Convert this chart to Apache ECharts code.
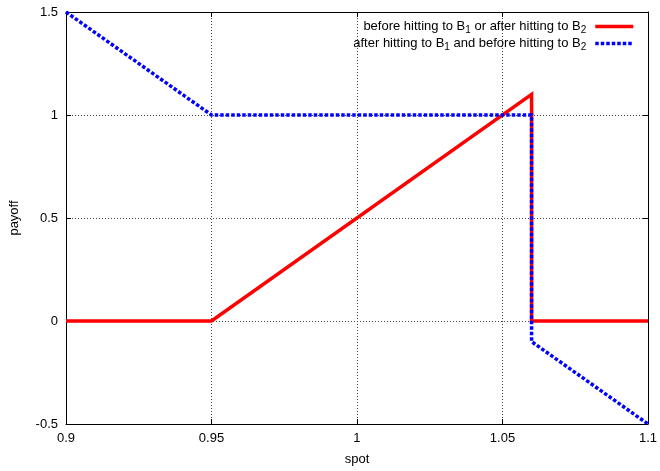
<!DOCTYPE html>
<html>
<head>
<meta charset="utf-8">
<script src="https://cdn.jsdelivr.net/npm/echarts@6/dist/echarts.min.js"></script>
<style>html,body{margin:0;padding:0;background:#fff}#c{width:660px;height:471px}</style>
</head>
<body>
<div id="c"></div>
<script>
const spotBefore = [0.9, 0.95, 1.06, 1.06, 1.1];
const payoffBefore = [0, 0, 1.1, 0, 0];
const spotAfter = [0.9, 0.95, 1.06, 1.06, 1.1];
const payoffAfter = [1.5, 1, 1, -0.1, -0.5];
const xTicks = ['0.9', '0.95', '1', '1.05', '1.1'];
const yTicks = ['-0.5', '0', '0.5', '1', '1.5'];
const nameBefore = 'before hitting to B{s|1} or after hitting to B{s|2}';
const nameAfter = 'after hitting to B{s|1} and before hitting to B{s|2}';

const FONT = 'Liberation Sans, Arial, sans-serif';
const chart = echarts.init(document.getElementById('c'));
const pair = (xs, ys) => xs.map((x, i) => [x, ys[i]]);
const fmtX = v => { const i = Math.round((v - 0.9) / 0.05); return xTicks[i] !== undefined ? xTicks[i] : ''; };
const fmtY = v => { const i = Math.round((v + 0.5) / 0.5); return yTicks[i] !== undefined ? yTicks[i] : ''; };
const legendText = {
  fontFamily: FONT, fontSize: 13, color: '#000', padding: [0, 4, 0, 0],
  rich: { s: { fontFamily: FONT, fontSize: 10, color: '#000', padding: [7, 0, 0, 0] } }
};
const axisCommon = {
  type: 'value',
  axisLine: { show: true, onZero: false, lineStyle: { color: '#000', width: 1 } },
  axisTick: { show: true, inside: true, length: 5, lineStyle: { color: '#000' } },
};
const legendCommon = {
  right: 25, orient: 'vertical', align: 'right', itemWidth: 38, itemHeight: 10, padding: 0,
  textStyle: legendText, formatter: n => n, selectedMode: false,
  itemStyle: { opacity: 0 }, lineStyle: { width: 3.5 }
};
chart.setOption({
  animation: false,
  backgroundColor: '#fff',
  grid: { left: 65, right: 9, top: 12, bottom: 41.5, containLabel: false },
  legend: [
    Object.assign({}, legendCommon, { data: [nameBefore], top: 20 }),
    Object.assign({}, legendCommon, { data: [nameAfter], top: 37 })
  ],
  xAxis: [
    Object.assign({}, axisCommon, {
      min: 0.9, max: 1.1, interval: 0.05, position: 'bottom',
      name: 'spot', nameLocation: 'middle', nameGap: 29,
      nameTextStyle: { fontFamily: FONT, fontSize: 13, color: '#000' },
      axisLabel: { formatter: fmtX, fontFamily: FONT, fontSize: 13, color: '#000', margin: 8 },
      splitLine: { show: true, lineStyle: { color: '#444', type: [1, 2], width: 1 } }
    }),
    Object.assign({}, axisCommon, {
      min: 0.9, max: 1.1, interval: 0.05, position: 'top',
      axisLabel: { show: false }, splitLine: { show: false }
    })
  ],
  yAxis: [
    Object.assign({}, axisCommon, {
      min: -0.5, max: 1.5, interval: 0.5, position: 'left',
      name: 'payoff', nameLocation: 'middle', nameGap: 45, nameRotate: 90,
      nameTextStyle: { fontFamily: FONT, fontSize: 13, color: '#000' },
      axisLabel: { formatter: fmtY, fontFamily: FONT, fontSize: 13, color: '#000', margin: 8 },
      splitLine: { show: true, lineStyle: { color: '#444', type: [1, 2], width: 1 } }
    }),
    Object.assign({}, axisCommon, {
      min: -0.5, max: 1.5, interval: 0.5, position: 'right',
      axisLabel: { show: false }, splitLine: { show: false }
    })
  ],
  series: [
    { name: nameBefore, type: 'line', data: pair(spotBefore, payoffBefore), symbol: 'none',
      lineStyle: { color: '#ff0000', width: 3.5, cap: 'butt', join: 'miter' }, itemStyle: { color: '#ff0000' } },
    { name: nameAfter, type: 'line', data: pair(spotAfter, payoffAfter), symbol: 'none',
      lineStyle: { color: '#0000ff', width: 3.5, type: [3.5, 2], cap: 'butt', join: 'miter' }, itemStyle: { color: '#0000ff' } }
  ]
});
</script>
</body>
</html>
